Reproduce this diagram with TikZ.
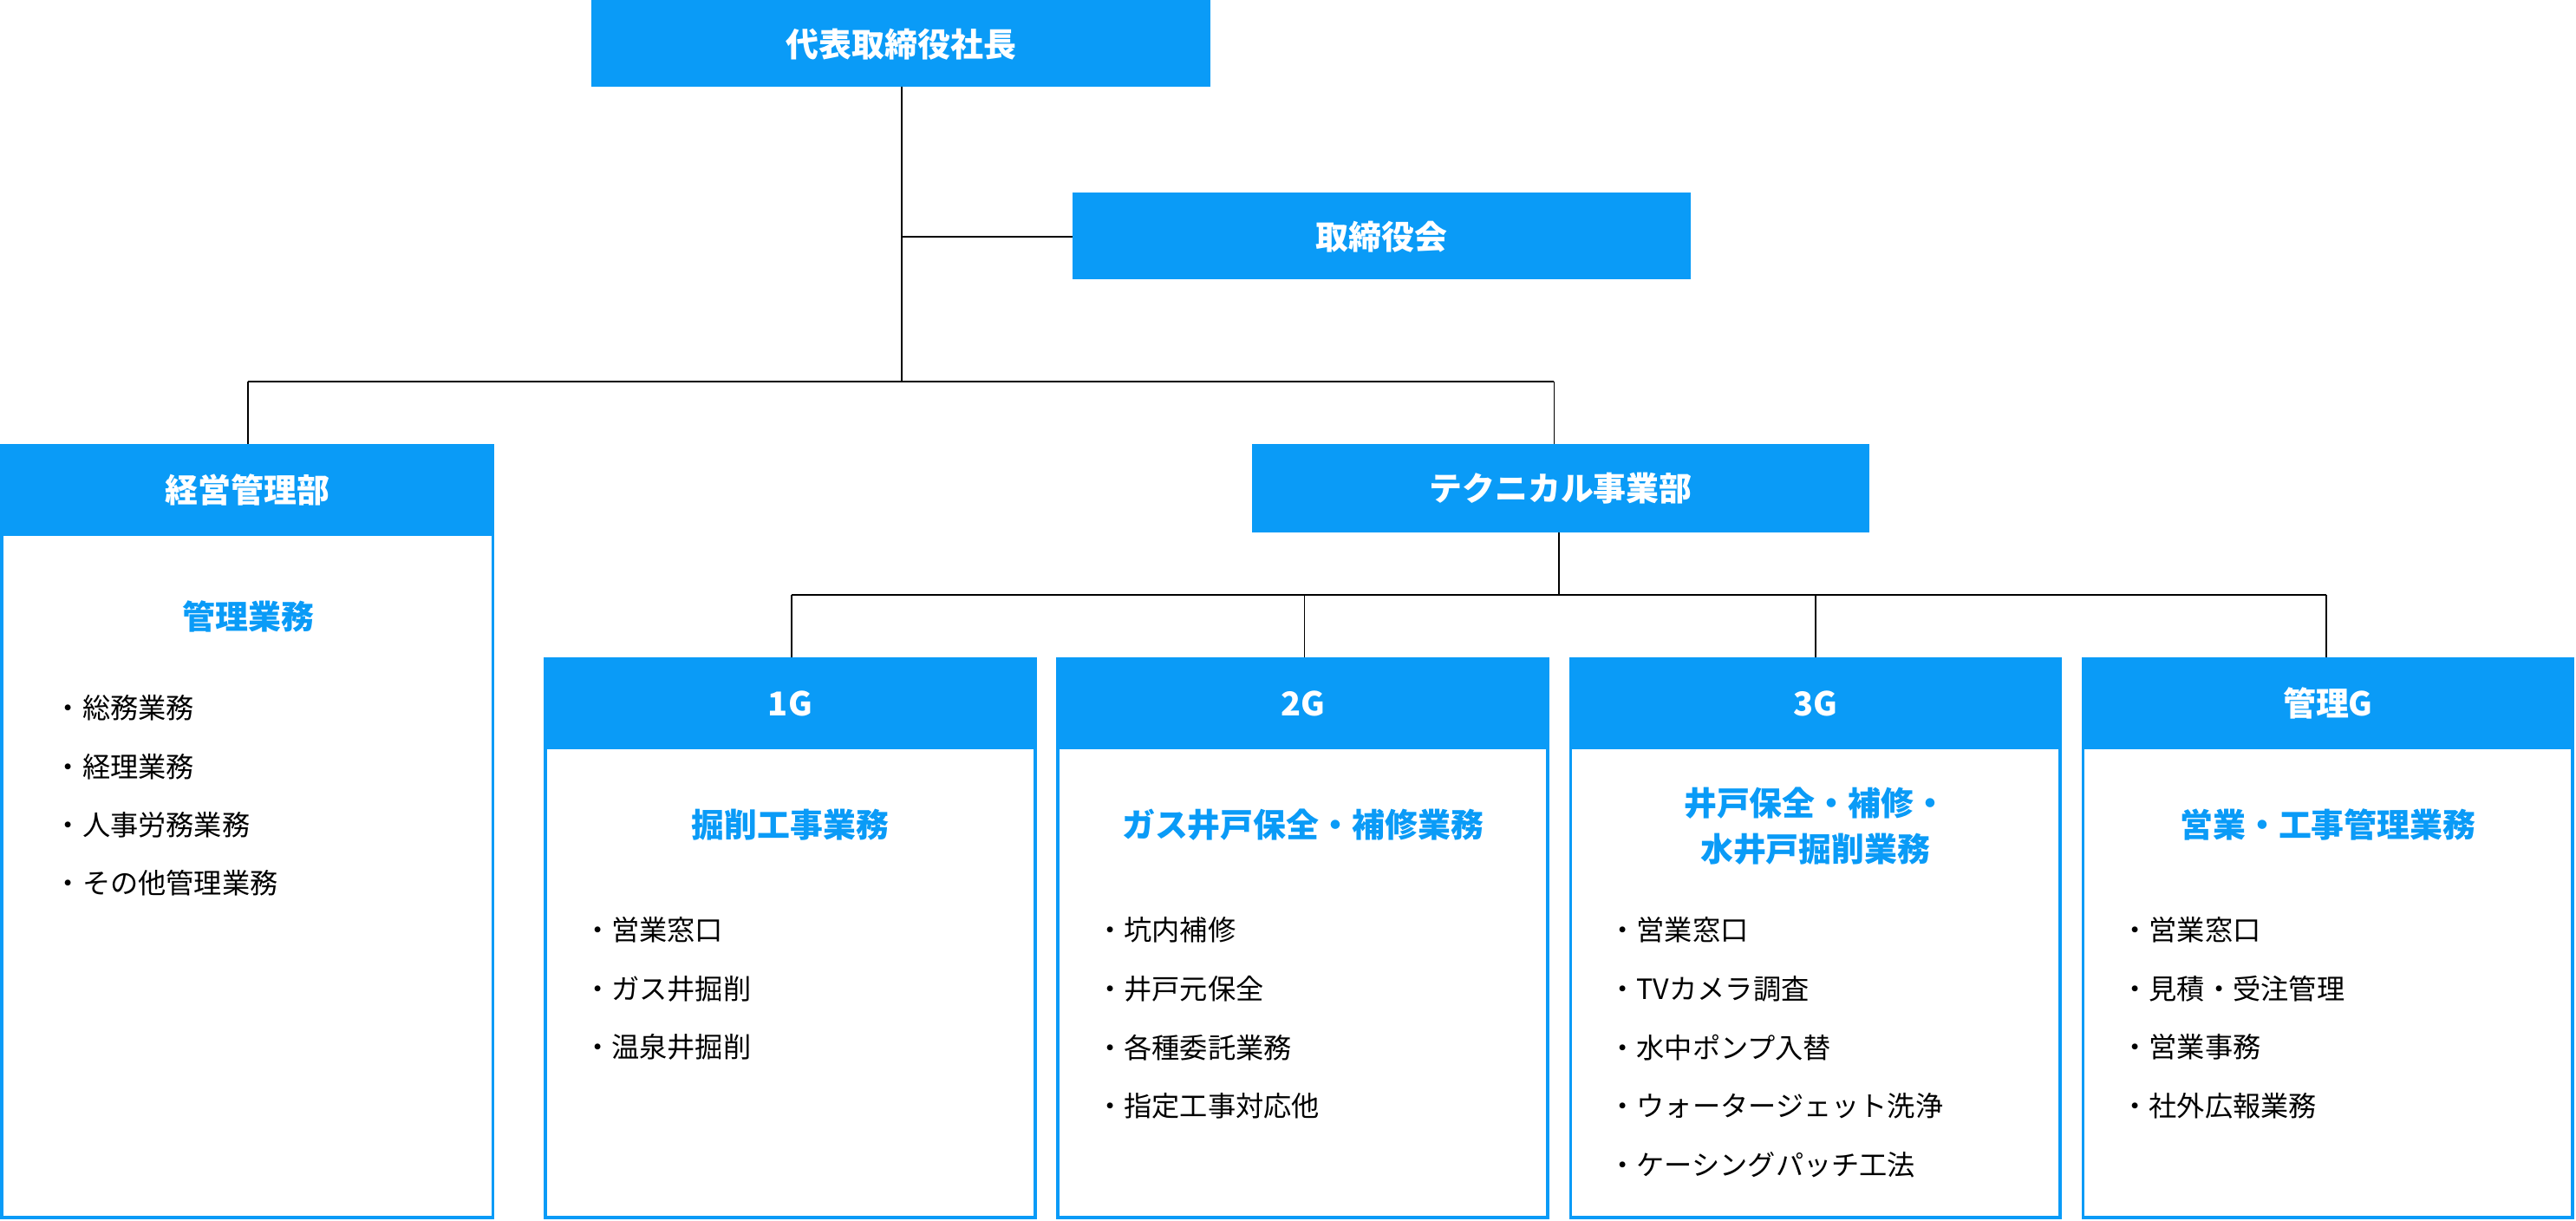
\documentclass[tikz,border=0pt]{standalone}
\usepackage{fontspec}
\setmainfont{Noto Sans CJK JP}
\newfontfamily\cjkb{Noto Sans CJK JP}[BoldFont={* Bold}]
\definecolor{cblue}{HTML}{0A9BF7}
\begin{document}
\begin{tikzpicture}[x=1pt,y=-1pt,
 hdr/.style={fill=cblue,draw=none,inner sep=0,font=\fontsize{20}{22}\selectfont\bfseries,text=white},
 bodyb/.style={draw=cblue,line width=2pt,fill=white},
 sub/.style={text=cblue,font=\fontsize{20}{28}\selectfont\bfseries,align=center},
 item/.style={anchor=west,font=\fontsize{17}{20}\selectfont,inner sep=0},
 ln/.style={line width=1pt,black}]
\useasboundingbox (0,0) rectangle (1568,743);
% connectors
\coordinate (t1) at (549,144);
\coordinate (t2) at (549,232);
\coordinate (l1) at (151,232);
\coordinate (r1) at (946,232);
\coordinate (m1) at (949,362);
\draw[ln] (549,53) -- (t2);
\draw[ln] (t1) -- (653,144);
\draw[ln] (l1) -- (r1);
\draw[ln] (l1) -- (151,271);
\draw[ln] (r1) -- (946,271);
\draw[ln] (949,324) -- (m1);
\draw[ln] (482,362) -- (1416,362);
\foreach \x in {482,794,1105,1416} \draw[ln] (\x,362) -- (\x,401);
% top boxes
\fill[cblue] (360,0) rectangle (737,53);
\node[hdr] (ceo) at (548.5,27) {代表取締役社長};
\fill[cblue] (653,117) rectangle (1029,170);
\node[hdr] (board) at (841,144) {取締役会};
\fill[cblue] (762,270) rectangle (1138,324);
\node[hdr] (tech) at (950,297) {テクニカル事業部};
% left column
\draw[bodyb] (1,325) rectangle (300,741);
\fill[cblue] (0,270) rectangle (301,326);
\node[hdr] (keiei) at (150.5,298) {経営管理部};
\node[sub] (ks) at (151,375) {管理業務};
\foreach \t [count=\i from 0] in {総務業務,経理業務,人事労務業務,その他管理業務}
  \node[item] at (33,431+35.5*\i) {・\t};
% columns
\foreach \x/\h/\s/\sy in {331/1G/掘削工事業務/502,643/2G/ガス井戸保全・補修業務/502,955/3G/{井戸保全・補修・\\水井戸掘削業務}/503,1267/管理G/営業・工事管理業務/502}{
  \draw[bodyb] (\x+1,455) rectangle (\x+299,741);
  \fill[cblue] (\x,400) rectangle (\x+300,456);
  \node[hdr] at (\x+150,428) {\h};
  \node[sub] at (\x+150,\sy) {\s};
}
\foreach \t [count=\i from 0] in {営業窓口,ガス井掘削,温泉井掘削}
  \node[item] at (355,566+35.7*\i) {・\t};
\foreach \t [count=\i from 0] in {坑内補修,井戸元保全,各種委託業務,指定工事対応他}
  \node[item] at (667,566+35.7*\i) {・\t};
\foreach \t [count=\i from 0] in {営業窓口,TVカメラ調査,水中ポンプ入替,ウォータージェット洗浄,ケーシングパッチ工法}
  \node[item] at (979,566+35.7*\i) {・\t};
\foreach \t [count=\i from 0] in {営業窓口,見積・受注管理,営業事務,社外広報業務}
  \node[item] at (1291,566+35.7*\i) {・\t};
\end{tikzpicture}
\end{document}
